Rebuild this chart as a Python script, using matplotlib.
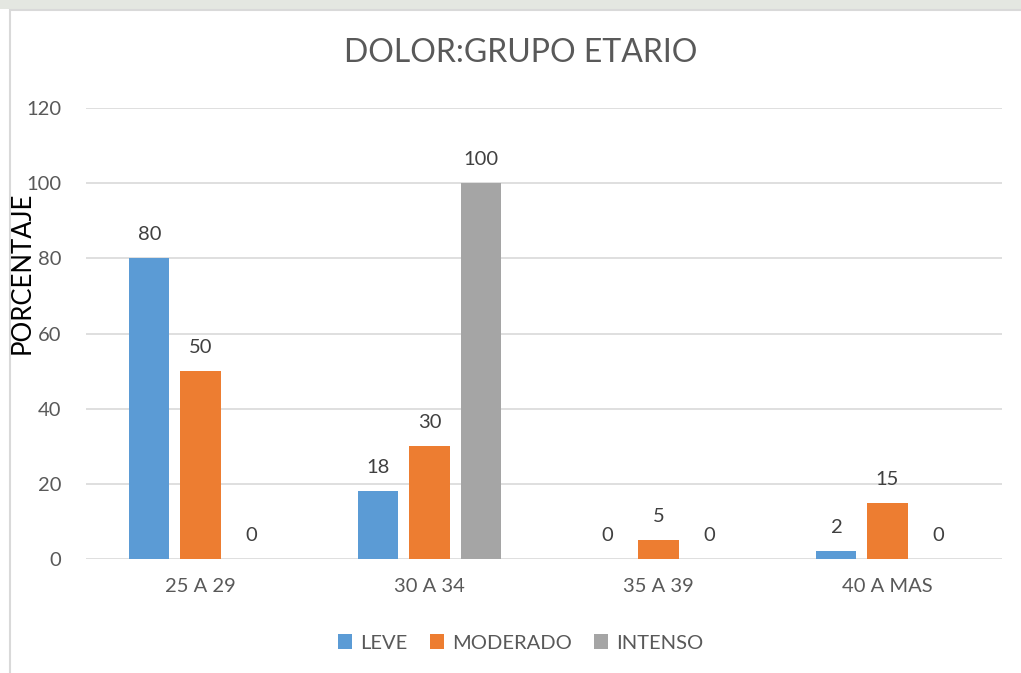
import numpy as np
import matplotlib.pyplot as plt
from matplotlib.patches import Rectangle

plt.rcParams['font.family'] = ['Lato', 'DejaVu Sans']

grupos = ["25 A 29", "30 A 34", "35 A 39", "40 A MAS"]
leve = [80, 18, 0, 2]
moderado = [50, 30, 5, 15]
intenso = [0, 100, 0, 0]
series = ["LEVE", "MODERADO", "INTENSO"]
colores = ["#5b9bd5", "#ed7d31", "#a5a5a5"]
yticks = [0, 20, 40, 60, 80, 100, 120]

texto = "#595959"

fig = plt.figure(figsize=(10.21, 6.73), dpi=100)

# franja superior y marco del grafico (detras de los ejes)
fig.patches.append(Rectangle((0, 1 - 9 / 673), 1, 9 / 673, transform=fig.transFigure,
                             facecolor="#e4e7e1", edgecolor="none", zorder=-2))
fig.patches.append(Rectangle((10 / 1021, -0.05), 1.1, 1.05 - 10 / 673, transform=fig.transFigure,
                             facecolor="white", edgecolor="#d9d9d9", linewidth=1.5, zorder=-1))

ax = fig.add_axes([86 / 1021, 1 - 559 / 673, 916 / 1021, 451 / 673])
ax.set_facecolor("none")

x = np.arange(len(grupos))
ancho = 0.175
paso = 0.223
for i, (nombre, valores, color) in enumerate(zip(series, [leve, moderado, intenso], colores)):
    pos = x + (i - 1) * paso
    ax.bar(pos, valores, width=ancho, color=color, label=nombre, zorder=3)
    for p, v in zip(pos, valores):
        ax.annotate(str(v), (p, v), xytext=(0, 17), textcoords="offset points",
                    ha="center", va="center", fontsize=14.5, color="#404040")

ax.set_xlim(-0.5, 3.5)
ax.set_ylim(0, 120)
ax.set_yticks(yticks)
ax.set_xticks(x)
ax.set_xticklabels(grupos)
ax.tick_params(axis="both", length=0, labelsize=14.5, colors=texto)
ax.tick_params(axis="y", pad=18)
ax.tick_params(axis="x", pad=14)
ax.grid(axis="y", color="#d9d9d9", linewidth=1.2, zorder=0)
for s in ax.spines.values():
    s.set_visible(False)

ax.set_ylabel("PORCENTAJE", fontsize=18.5, color="black")
ax.yaxis.set_label_coords(-0.056, 0.634)

fig.text(0.51, 1 - 53 / 673, "DOLOR:GRUPO ETARIO", ha="center", va="center",
         fontsize=23, color=texto)

fig.legend(loc="center", bbox_to_anchor=(0.51, 1 - 643 / 673), ncol=3, frameon=False,
           fontsize=14.5, handlelength=0.7, handleheight=0.7, handletextpad=0.4,
           columnspacing=1.1, labelcolor=texto)

fig.savefig("out.png", dpi=100)
